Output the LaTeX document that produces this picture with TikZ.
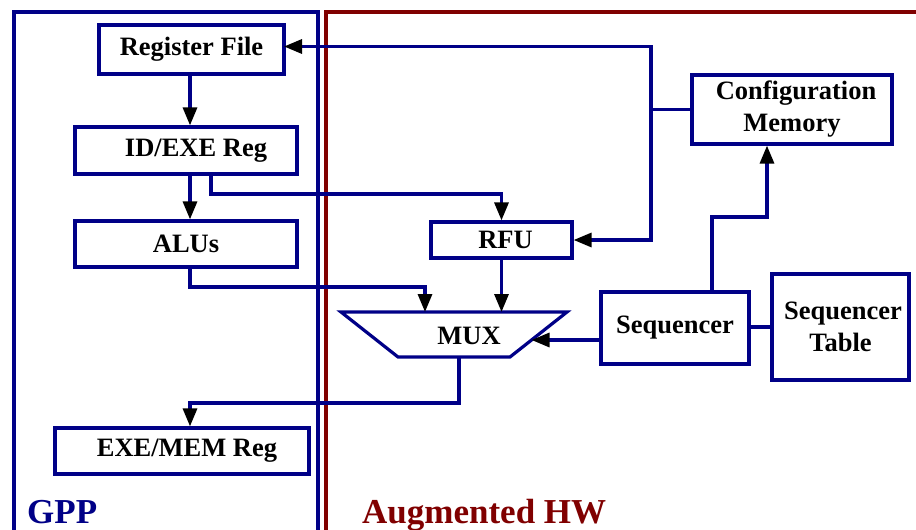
\documentclass[tikz,border=0pt]{standalone}
\usepackage{fontspec}
\setmainfont{Liberation Serif}
\usetikzlibrary{arrows.meta}
\definecolor{navyc}{RGB}{0,0,135}
\definecolor{maroonc}{RGB}{128,0,0}
\begin{document}
\begin{tikzpicture}[x=1pt,y=-1pt,line join=miter,
  box/.style={draw=navyc, line width=3.2pt, inner sep=0pt, align=center,
    font=\fontsize{26.5}{32}\selectfont\bfseries, fill=white},
  wire/.style={draw=navyc, line width=3.2pt},
  arr/.style={wire, -{Triangle[length=18pt,width=14pt,color=black]}},
  region/.style={line width=3.2pt},
  title/.style={font=\fontsize{35}{40}\selectfont\bfseries, anchor=base west, inner sep=0pt}]
\useasboundingbox (0,0) rectangle (916,530);
\clip (0,0) rectangle (916,530);
\fill[white] (0,0) rectangle (916,530);

% regions
\coordinate (gppbl) at (14,540);
\coordinate (gpptl) at (14,12);
\coordinate (gpptr) at (318,12);
\coordinate (gppbr) at (318,540);
\draw[region, navyc] (gppbl) -- (gpptl) -- (gpptr) -- (gppbr);
\coordinate (hwbl) at (326,540);
\coordinate (hwtl) at (326,12);
\coordinate (hwtr) at (930,12);
\draw[region, maroonc] (hwbl) -- (hwtl) -- (hwtr);
\node[title, text=navyc] (gpp) at (27,523) {GPP};
\node[title, text=maroonc] (hw) at (362,523) {Augmented HW};

% boxes
\node[box, minimum width=185pt, minimum height=49pt] (regfile) at (191.5,49.5) {Register File};
\node[box, minimum width=222pt, minimum height=47pt] (idexe) at (186,150.5) {\hspace*{20pt}ID/EXE Reg\rule[-4pt]{0pt}{1pt}};
\node[box, minimum width=222pt, minimum height=46pt] (alus) at (186,244) {ALUs};
\node[box, minimum width=254pt, minimum height=46pt] (exemem) at (182,451) {\hspace*{10pt}EXE/MEM Reg\rule[-4pt]{0pt}{1pt}};
\node[box, minimum width=200pt, minimum height=69pt] (cfg) at (792,109.5) {\hspace*{8pt}Configuration\\Memory};
\node[box, minimum width=141pt, minimum height=36pt] (rfu) at (501.5,240) {\hspace*{8pt}RFU};
\node[box, minimum width=148pt, minimum height=72pt] (seq) at (675,328) {Sequencer};
\node[box, minimum width=137pt, minimum height=106pt] (seqt) at (840.5,327) {\hspace*{5pt}Sequencer\\Table};

% MUX trapezoid
\coordinate (mtl) at (341,312);
\coordinate (mtr) at (567,312);
\coordinate (mbr) at (510,357);
\coordinate (mbl) at (398,357);
\draw[wire] (mtl) -- (mtr) -- (mbr) -- (mbl) -- cycle;
\node[font=\fontsize{26.5}{32}\selectfont\bfseries, inner sep=0pt] (mux) at (469,336) {MUX};

% helper coordinates
\coordinate (xa) at (190,0);
\coordinate (xb) at (211,0);
\coordinate (yb) at (0,194);
\coordinate (yc) at (0,287);
\coordinate (muxa) at (425,312);
\coordinate (muxt) at (0,312);
\coordinate (muxr) at (531.5,340);
\coordinate (xd) at (712,0);
\coordinate (ye) at (0,217);
\coordinate (xe) at (767,0);
\coordinate (muxb) at (459,357);
\coordinate (yf) at (0,403);
\coordinate (j) at (651,109.5);
\coordinate (rfin) at (284,46.5);

% connectors
\draw[wire] (cfg.west) -- (j);
\draw[arr] (j) |- (rfin);
\draw[arr] (j) |- (rfu.east);
\draw[arr] (regfile.south -| xa) -- (idexe.north -| xa);
\draw[arr] (idexe.south -| xa) -- (alus.north -| xa);
\draw[arr] (idexe.south -| xb) -- (xb |- yb) -| (rfu.north);
\draw[arr] (alus.south -| xa) -- (xa |- yc) -| (muxa);
\draw[arr] (rfu.south) -- (rfu.south |- muxt);
\draw[arr] (seq.west |- muxr) -- (muxr);
\draw[arr] (seq.north -| xd) -- (xd |- ye) -| (cfg.south -| xe);
\draw[wire] (seq.east |- seqt.west) -- (seqt.west);
\draw[arr] (muxb) -- (muxb |- yf) -| (exemem.north -| xa);
\end{tikzpicture}
\end{document}
